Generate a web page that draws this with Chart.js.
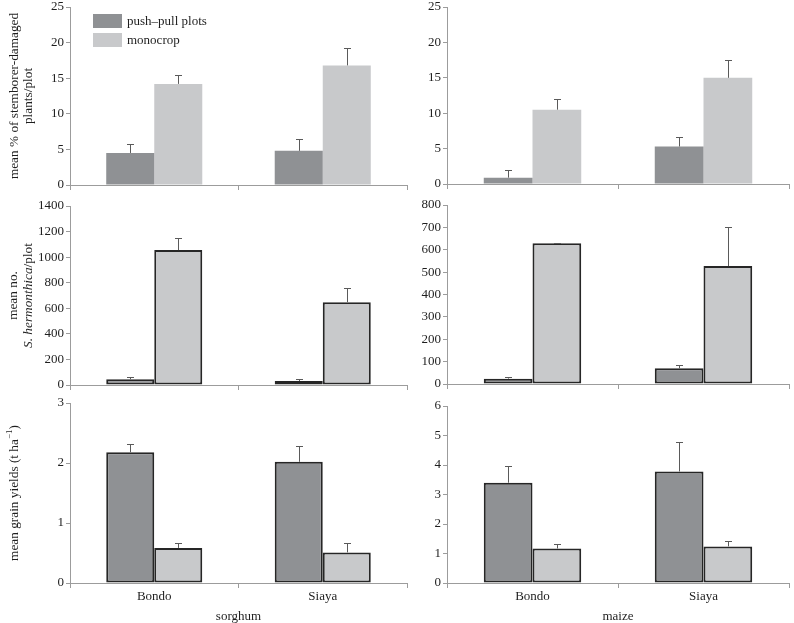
<!DOCTYPE html>
<html><head><meta charset="utf-8">
<script src="https://cdn.jsdelivr.net/npm/chart.js@4/dist/chart.umd.min.js"></script>
<style>
html,body{margin:0;padding:0;background:#fff;overflow:hidden;width:794px;height:623px;position:relative}
canvas{position:absolute}
</style></head><body>
<canvas id="c1"></canvas><canvas id="c2"></canvas><canvas id="c3"></canvas>
<canvas id="c4"></canvas><canvas id="c5"></canvas><canvas id="c6"></canvas>
<script>
// ---------- data ----------
const categories = ['Bondo', 'Siaya'];
const seriesNames = ['push\u2013pull plots', 'monocrop'];
const cropNames = ['sorghum', 'maize'];

// stemborer-damaged plants (%)
const damageSorghumPP = [4.5, 4.8];
const damageSorghumPPErr = [1.2, 1.7];
const damageSorghumMono = [14.2, 16.8];
const damageSorghumMonoErr = [1.2, 2.5];
const damageMaizePP = [0.9, 5.3];
const damageMaizePPErr = [1.1, 1.3];
const damageMaizeMono = [10.5, 15.0];
const damageMaizeMonoErr = [1.5, 2.5];

// S. hermonthica counts
const strigaSorghumPP = [45, 31];
const strigaSorghumPPErr = [15, 14];
const strigaSorghumMono = [1055, 648];
const strigaSorghumMonoErr = [98, 108];
const strigaMaizePP = [24, 70];
const strigaMaizePPErr = [9, 17];
const strigaMaizeMono = [629, 527];
const strigaMaizeMonoErr = [3, 176];

// grain yields (t/ha)
const yieldSorghumPP = [2.18, 2.02];
const yieldSorghumPPErr = [0.13, 0.26];
const yieldSorghumMono = [0.585, 0.51];
const yieldSorghumMonoErr = [0.075, 0.165];
const yieldMaizePP = [3.40, 3.78];
const yieldMaizePPErr = [0.58, 0.99];
const yieldMaizeMono = [1.17, 1.24];
const yieldMaizeMonoErr = [0.15, 0.18];

// tick labels
const damageTicks = [0, 5, 10, 15, 20, 25];
const strigaSorghumTicks = [0, 200, 400, 600, 800, 1000, 1200, 1400];
const strigaMaizeTicks = [0, 100, 200, 300, 400, 500, 600, 700, 800];
const yieldSorghumTicks = [0, 1, 2, 3];
const yieldMaizeTicks = [0, 1, 2, 3, 4, 5, 6];

// ---------- style ----------
const FONT = '"Liberation Serif", "Times New Roman", serif';
const TEXT = '#1e1e1e';
const AXIS = '#9c9c9c';
const PP_COLOR = '#8f9194';
const MONO_COLOR = '#c8c9cb';

function fontFor(s) {
  return (s.i ? 'italic ' : '') + (s.sup ? 9 : 13.3) + 'px ' + FONT;
}

const errorBarPlugin = {
  id: 'errorBars',
  afterDatasetsDraw(chart) {
    const ctx = chart.ctx, ys = chart.scales.y;
    chart.data.datasets.forEach((ds, i) => {
      if (!ds.errors) return;
      const meta = chart.getDatasetMeta(i);
      meta.data.forEach((bar, j) => {
        const v = ds.data[j], e = ds.errors[j];
        const yTop = Math.round(ys.getPixelForValue(v + e)) + 0.5;
        const x = Math.round(bar.x) + 0.5;
        ctx.save();
        ctx.strokeStyle = '#5a5a5a';
        ctx.lineWidth = 1;
        ctx.beginPath();
        ctx.moveTo(x, bar.y);
        ctx.lineTo(x, yTop);
        ctx.moveTo(x - 3.5, yTop);
        ctx.lineTo(x + 3.5, yTop);
        ctx.stroke();
        ctx.restore();
      });
    });
  }
};

const yTitlePlugin = {
  id: 'yTitle',
  afterDraw(chart, args, opts) {
    if (!opts.lines) return;
    const ctx = chart.ctx, ca = chart.chartArea;
    const cy = (ca.top + ca.bottom) / 2;
    opts.lines.forEach((segs, k) => {
      let total = 0;
      segs.forEach(s => { ctx.font = fontFor(s); total += ctx.measureText(s.t).width; });
      ctx.save();
      ctx.translate(opts.xs[k], cy);
      ctx.rotate(-Math.PI / 2);
      ctx.textBaseline = 'middle';
      ctx.textAlign = 'left';
      ctx.fillStyle = TEXT;
      let x = -total / 2;
      segs.forEach(s => {
        ctx.font = fontFor(s);
        ctx.fillText(s.t, x, s.sup ? -5 : 0);
        x += ctx.measureText(s.t).width;
      });
      ctx.restore();
    });
  }
};

const boxLegendPlugin = {
  id: 'boxLegend',
  afterDraw(chart, args, opts) {
    if (!opts.show) return;
    const ctx = chart.ctx, ca = chart.chartArea;
    chart.data.datasets.forEach((ds, i) => {
      const x = ca.left + opts.dx, y = ca.top + opts.dy + i * opts.rowH;
      ctx.save();
      ctx.fillStyle = ds.backgroundColor;
      ctx.fillRect(x, y, opts.boxW, opts.boxH);
      ctx.fillStyle = TEXT;
      ctx.font = '13px ' + FONT;
      ctx.textBaseline = 'middle';
      ctx.textAlign = 'left';
      ctx.fillText(ds.label, x + opts.boxW + 5, y + opts.boxH / 2 + 0.5);
      ctx.restore();
    });
  }
};

function makePanel(id, g, pp, ppErr, mono, monoErr, ticks, cfg) {
  const cv = document.getElementById(id);
  const top = g.top - 10;
  const h = g.bottom + g.xH - top;
  cv.width = g.width; cv.height = h;
  cv.style.left = g.left + 'px'; cv.style.top = top + 'px';
  cv.style.width = g.width + 'px'; cv.style.height = h + 'px';
  const bw = cfg.outlined ? 2 : 0;
  new Chart(cv, {
    type: 'bar',
    data: {
      labels: categories,
      datasets: [
        { label: seriesNames[0], data: pp, errors: ppErr, backgroundColor: PP_COLOR,
          borderColor: '#262626', borderWidth: bw, borderSkipped: false },
        { label: seriesNames[1], data: mono, errors: monoErr, backgroundColor: MONO_COLOR,
          borderColor: '#262626', borderWidth: bw, borderSkipped: false }
      ]
    },
    options: {
      responsive: false, animation: false, devicePixelRatio: 1,
      layout: { padding: { top: 10, right: 5, left: 0, bottom: 0 } },
      datasets: { bar: { categoryPercentage: 0.57, barPercentage: 1.0 } },
      plugins: {
        legend: { display: false }, tooltip: { enabled: false },
        yTitle: cfg.title || {},
        boxLegend: cfg.legend || { show: false }
      },
      scales: {
        x: {
          type: 'category', offset: true,
          grid: { display: true, drawOnChartArea: false, drawTicks: true, tickLength: 5, color: AXIS, offset: true },
          border: { display: true, color: AXIS, width: 1 },
          ticks: { display: !!cfg.crop, font: { family: FONT, size: 13 }, color: TEXT, padding: 1 },
          title: { display: !!cfg.crop, text: cfg.crop || '', font: { family: FONT, size: 13, lineHeight: 1.0 }, color: TEXT, padding: 0 },
          afterFit(s) { s.height = g.xH; }
        },
        y: {
          min: ticks[0], max: ticks[ticks.length - 1],
          grid: { drawOnChartArea: false, drawTicks: true, tickLength: 4, color: AXIS },
          border: { display: true, color: AXIS, width: 1 },
          ticks: { font: { family: FONT, size: 13 }, color: TEXT, padding: 2, autoSkip: false,
                   callback: v => String(v) },
          afterBuildTicks(s) { s.ticks = ticks.map(v => ({ value: v })); },
          afterFit(s) { s.width = g.yW; }
        }
      }
    },
    plugins: [errorBarPlugin, yTitlePlugin, boxLegendPlugin]
  });
}

const L = { left: 0, width: 412, yW: 70 };
const R = { left: 400, width: 394, yW: 47 };

makePanel('c1', { ...L, top: 7, bottom: 185, xH: 10 },
  damageSorghumPP, damageSorghumPPErr, damageSorghumMono, damageSorghumMonoErr, damageTicks,
  { outlined: false,
    title: { lines: [[{ t: 'mean % of stemborer-damaged' }], [{ t: 'plants/plot' }]], xs: [15, 28.5] },
    legend: { show: true, dx: 23, dy: 7, rowH: 19, boxW: 29, boxH: 14 } });

makePanel('c2', { ...R, top: 7, bottom: 184, xH: 10 },
  damageMaizePP, damageMaizePPErr, damageMaizeMono, damageMaizeMonoErr, damageTicks,
  { outlined: false });

makePanel('c3', { ...L, top: 206, bottom: 385, xH: 10 },
  strigaSorghumPP, strigaSorghumPPErr, strigaSorghumMono, strigaSorghumMonoErr, strigaSorghumTicks,
  { outlined: true,
    title: { lines: [[{ t: 'mean no.' }], [{ t: 'S. hermonthica', i: true }, { t: '/plot' }]], xs: [14, 28.5] } });

makePanel('c4', { ...R, top: 205, bottom: 384, xH: 10 },
  strigaMaizePP, strigaMaizePPErr, strigaMaizeMono, strigaMaizeMonoErr, strigaMaizeTicks,
  { outlined: true });

makePanel('c5', { ...L, top: 403, bottom: 583, xH: 40 },
  yieldSorghumPP, yieldSorghumPPErr, yieldSorghumMono, yieldSorghumMonoErr, yieldSorghumTicks,
  { outlined: true, crop: cropNames[0],
    title: { lines: [[{ t: 'mean grain yields (t ha' }, { t: '\u22121', sup: true }, { t: ')' }]], xs: [15] } });

makePanel('c6', { ...R, top: 406, bottom: 583, xH: 40 },
  yieldMaizePP, yieldMaizePPErr, yieldMaizeMono, yieldMaizeMonoErr, yieldMaizeTicks,
  { outlined: true, crop: cropNames[1] });
</script>
</body></html>
